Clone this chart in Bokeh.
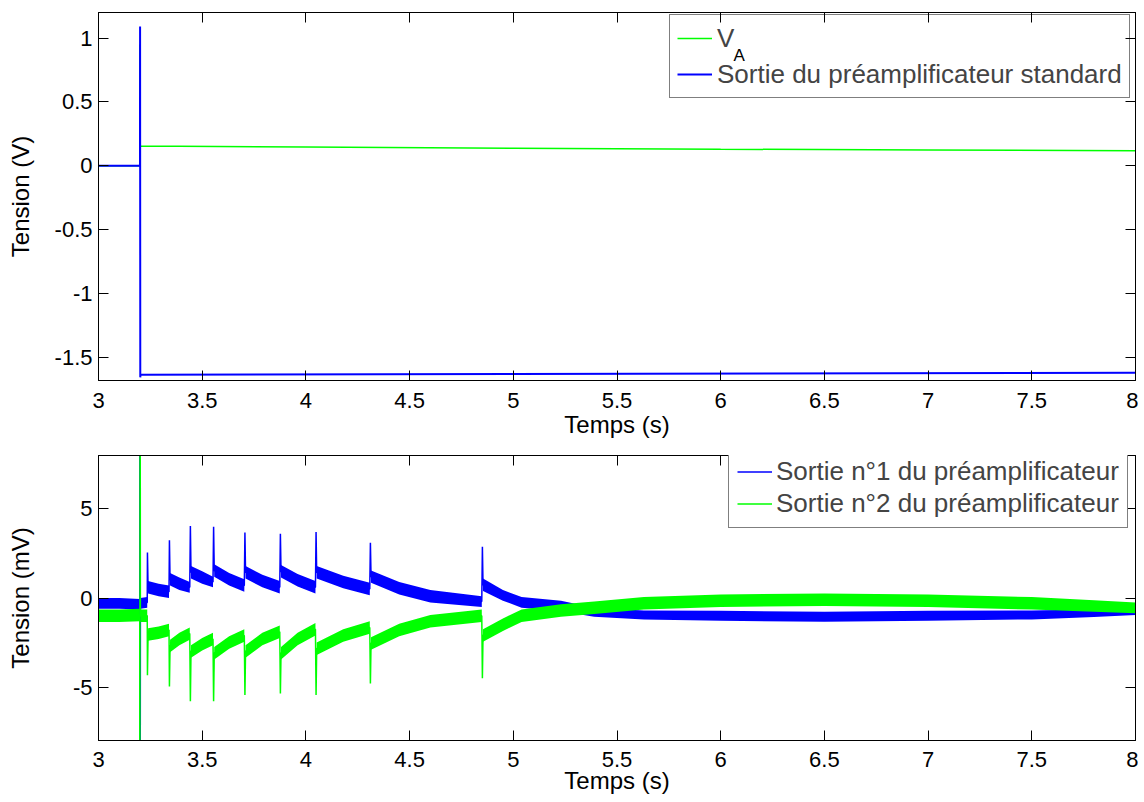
from bokeh.plotting import figure
from bokeh.models import (LinearAxis, FixedTicker, Legend, LegendItem, Label,
                          CustomJSTickFormatter, Range1d, CustomLabelingPolicy)
from bokeh.layouts import column
from bokeh.embed import file_html
from bokeh.resources import INLINE

FONT = "Liberation Sans"
GREEN = "#00ff00"
BLUE = "#0000ff"

# ---------------- data: top panel (V) ----------------
va_t = [3.0, 3.199, 3.1995, 3.2005, 4.0, 5.0, 6.0, 7.0, 8.0]
va_v = [0.0, 0.0, 0.95, 0.155, 0.148, 0.138, 0.130, 0.124, 0.118]

std_t = [3.0, 3.200, 3.2005, 3.2015, 3.2025, 5.0, 8.0]
std_v = [0.0, 0.0, 1.09, -1.655, -1.635, -1.63, -1.62]

# ---------------- data: bottom panel (mV) ----------------
# time, centre value, half-width of the noise band
n1_t = [3.000, 3.100, 3.199, 3.1995, 3.2005, 3.202, 3.235, 3.236, 3.239, 3.290, 3.340,
        3.342, 3.345, 3.390, 3.440, 3.443, 3.446, 3.500, 3.552, 3.555, 3.558, 3.630,
        3.703, 3.706, 3.709, 3.790, 3.874, 3.877, 3.880, 3.960, 4.046, 4.049, 4.052,
        4.180, 4.308, 4.311, 4.314, 4.450, 4.600, 4.848, 4.851, 4.854, 4.950, 5.040,
        5.230, 5.390, 5.630, 6.000, 6.500, 7.000, 7.500, 7.800, 8.000]
n1_v = [-0.30, -0.30, -0.35, 20.0, -20.0, -0.30, -0.25, 2.55, 0.60, 0.45, 0.35,
        3.24, 1.05, 0.80, 0.60, 4.04, 1.45, 1.15, 0.90, 4.00, 1.55, 1.05,
        0.70, 3.67, 1.45, 0.95, 0.60, 3.60, 1.50, 1.00, 0.60, 3.70, 1.45,
        0.90, 0.50, 3.10, 1.20, 0.55, 0.10, -0.20, 2.87, 0.75, 0.15, -0.25,
        -0.45, -0.80, -0.95, -1.00, -1.05, -1.00, -0.95, -0.85, -0.75]
n1_hw = [0.30, 0.30, 0.30, 0.0, 0.0, 0.30, 0.30, 0.0, 0.35, 0.35, 0.35,
         0.0, 0.35, 0.35, 0.30, 0.0, 0.35, 0.35, 0.30, 0.0, 0.35, 0.35,
         0.35, 0.0, 0.35, 0.35, 0.35, 0.0, 0.35, 0.35, 0.35, 0.0, 0.35,
         0.35, 0.35, 0.0, 0.35, 0.35, 0.35, 0.30, 0.0, 0.35, 0.30, 0.30,
         0.30, 0.25, 0.25, 0.28, 0.28, 0.28, 0.25, 0.22, 0.20]

n2_t = n1_t
n2_v = [-1.00, -1.00, -0.95, -20.0, 20.0, -1.00, -1.00, -4.34, -2.05, -1.95, -1.80,
        -4.97, -2.70, -2.30, -2.00, -5.80, -3.00, -2.60, -2.30, -5.80, -3.10, -2.50,
        -2.10, -5.45, -3.00, -2.30, -1.90, -5.36, -3.10, -2.30, -1.75, -5.45, -2.85,
        -2.10, -1.65, -4.80, -2.55, -1.80, -1.30, -1.00, -4.50, -2.10, -1.50, -1.00,
        -0.70, -0.55, -0.30, -0.15, -0.10, -0.15, -0.30, -0.45, -0.55]
n2_hw = [0.35, 0.35, 0.35, 0.0, 0.0, 0.35, 0.35, 0.0, 0.35, 0.35, 0.35,
         0.0, 0.35, 0.35, 0.35, 0.0, 0.35, 0.35, 0.35, 0.0, 0.35, 0.35,
         0.35, 0.0, 0.35, 0.35, 0.35, 0.0, 0.35, 0.35, 0.35, 0.0, 0.35,
         0.35, 0.35, 0.0, 0.35, 0.35, 0.35, 0.35, 0.0, 0.35, 0.35, 0.35,
         0.35, 0.35, 0.35, 0.35, 0.35, 0.35, 0.35, 0.32, 0.30]

x_ticks = [3, 3.5, 4, 4.5, 5, 5.5, 6, 6.5, 7, 7.5, 8]
top_y_ticks = [-1.5, -1, -0.5, 0, 0.5, 1]
bot_y_ticks = [-5, 0, 5]

x_label = "Temps (s)"
top_y_label = "Tension (V)"
bot_y_label = "Tension (mV)"
top_legend = ["V", "Sortie du préamplificateur standard"]
top_legend_sub = "A"
bot_legend = ["Sortie n°1 du préamplificateur", "Sortie n°2 du préamplificateur"]

NO_LABELS = ("const all = []; for (const i of indices) all.push(i); "
             "for (const i of all) indices.unset(i); return indices;")


def style_axis(ax, ticks, labels=True, label_standoff=10, tick_standoff=8):
    ax.ticker = FixedTicker(ticks=ticks)
    ax.major_tick_in = 10
    ax.major_tick_out = 0
    ax.minor_tick_in = 0
    ax.minor_tick_out = 0
    ax.minor_tick_line_color = None
    ax.axis_line_color = "black"
    ax.major_tick_line_color = "black"
    ax.major_label_text_font = FONT
    ax.major_label_text_color = "black"
    ax.axis_label_text_font = FONT
    ax.axis_label_text_font_size = "24px"
    ax.axis_label_text_font_style = "normal"
    ax.axis_label_text_color = "black"
    ax.axis_label_standoff = label_standoff
    if labels:
        ax.formatter = CustomJSTickFormatter(code="return String(tick);")
        ax.major_label_text_font_size = "22px"
        ax.major_label_standoff = tick_standoff
    else:
        ax.major_label_text_font_size = "0px"
        ax.major_label_standoff = 0
        ax.axis_label_standoff = 0
        ax.major_label_policy = CustomLabelingPolicy(code=NO_LABELS)


def make_fig(height, ylim, yticks, ylabel, bborder, tborder,
             ystandoff, xstandoff, xtickstandoff):
    p = figure(width=1138, height=height, x_range=Range1d(3, 8),
               y_range=Range1d(*ylim), output_backend="svg", toolbar_location=None,
               min_border_left=98, min_border_right=3, min_border_top=tborder,
               min_border_bottom=bborder)
    p.grid.visible = False
    p.outline_line_color = "black"
    p.background_fill_color = "white"
    p.border_fill_color = "white"
    style_axis(p.xaxis[0], x_ticks, True, xstandoff, xtickstandoff)
    style_axis(p.yaxis[0], yticks, True, ystandoff, 6)
    p.xaxis[0].axis_label = x_label
    p.yaxis[0].axis_label = ylabel
    ax_top = LinearAxis()
    style_axis(ax_top, x_ticks, False)
    p.add_layout(ax_top, "above")
    ax_right = LinearAxis()
    style_axis(ax_right, yticks, False)
    p.add_layout(ax_right, "right")
    return p


# ---------------- top figure ----------------
p1 = make_fig(447, (-1.68, 1.2), top_y_ticks, top_y_label, 67, 12, 18, 0, 12)
r_va = p1.line(va_t, va_v, line_color=GREEN, line_width=1.5)
r_std = p1.line(std_t, std_v, line_color=BLUE, line_width=2)

leg1 = Legend(items=[LegendItem(label=top_legend[0], renderers=[r_va]),
                     LegendItem(label=top_legend[1], renderers=[r_std])],
              location=(571, 282))
leg1.label_text_font = FONT
leg1.label_text_font_size = "26px"
leg1.label_height = 32
leg1.glyph_height = 32
leg1.glyph_width = 35
leg1.label_standoff = 5
leg1.spacing = 4
leg1.padding = 7
leg1.margin = 0
leg1.border_line_color = "black"
leg1.border_line_width = 1
leg1.background_fill_alpha = 0
p1.add_layout(leg1)
sub = Label(x=6.062, y=0.864, text=top_legend_sub, text_font=FONT,
            text_font_size="17px", text_baseline="middle", text_color="black")
p1.add_layout(sub)

# ---------------- bottom figure ----------------
p2 = make_fig(355, (-8, 8), bot_y_ticks, bot_y_label, 62, 8, 36, -3, 11)

lo1 = [v - h for v, h in zip(n1_v, n1_hw)]
hi1 = [v + h for v, h in zip(n1_v, n1_hw)]
lo2 = [v - h for v, h in zip(n2_v, n2_hw)]
hi2 = [v + h for v, h in zip(n2_v, n2_hw)]

p2.varea(x=n1_t, y1=lo1, y2=hi1, fill_color=BLUE)
r_n1 = p2.line(n1_t, n1_v, line_color=BLUE, line_width=1.5)
p2.varea(x=n2_t, y1=lo2, y2=hi2, fill_color=GREEN)
r_n2 = p2.line(n2_t, n2_v, line_color=GREEN, line_width=1.5)

leg2 = Legend(items=[LegendItem(label=bot_legend[0], renderers=[r_n1]),
                     LegendItem(label=bot_legend[1], renderers=[r_n2])],
              location=(630, 212))
leg2.label_text_font = FONT
leg2.label_text_font_size = "26px"
leg2.label_height = 27
leg2.glyph_height = 27
leg2.glyph_width = 35
leg2.label_standoff = 4
leg2.spacing = 1
leg2.padding = 8
leg2.margin = 0
leg2.border_line_color = "black"
leg2.border_line_width = 1
leg2.background_fill_alpha = 1
p2.add_layout(leg2)

layout = column(p1, p2)
open("out.html", "w").write(file_html(layout, INLINE))
